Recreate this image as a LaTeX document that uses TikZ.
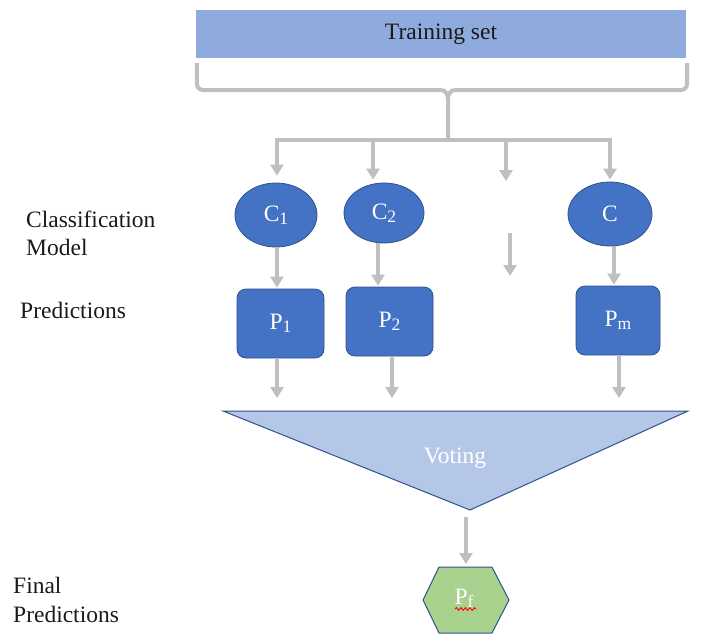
\documentclass[tikz,border=0pt]{standalone}
\usepackage{fontspec}
\setmainfont{Liberation Serif}
\newfontfamily\diagfont{Liberation Serif}
\usetikzlibrary{arrows.meta,shapes.geometric,calc,decorations.pathmorphing}

\definecolor{trainfill}{HTML}{8FAADC}
\definecolor{modelfill}{HTML}{4472C4}
\definecolor{darkedge}{HTML}{2F528F}
\definecolor{votefill}{HTML}{B4C7E7}
\definecolor{finalfill}{HTML}{A9D18E}
\definecolor{linkgrey}{HTML}{BFBFBF}
\definecolor{labeltext}{HTML}{1A1A1A}

% index set slightly below the baseline, at about three quarters size
\newcommand\idx[1]{\raisebox{-0.12em}{\fontsize{17.5}{18}\selectfont #1}}

\tikzset{
  txt/.style={font=\diagfont\fontsize{23.5}{28}\selectfont},
  trainbox/.style={txt, rectangle, fill=trainfill, draw=none, inner sep=0pt,
    minimum width=490pt, minimum height=48pt, text=labeltext},
  model/.style={txt, ellipse, fill=modelfill, draw=darkedge, line width=0.8pt,
    text=white, inner sep=0pt},
  pred/.style={txt, rectangle, rounded corners=9pt, fill=modelfill, draw=darkedge,
    line width=0.8pt, text=white, inner sep=0pt},
  sidelabel/.style={txt, anchor=base west, inner sep=0pt, text=labeltext},
  link/.style={draw=linkgrey, line width=4pt},
  arr/.style={link, -{Triangle[width=13pt,length=11pt]}},
}

\begin{document}
\begin{tikzpicture}[x=1pt,y=-1pt]
\useasboundingbox (0,0) rectangle (705,635);

% training data
\node[trainbox] (train) at (441,34) {Training set};

% brace splitting the training set
\draw[link, rounded corners=6pt] ($(train.south west)+(1,5)$) -- (197,90) -- (441,90);
\draw[link, rounded corners=6pt] ($(train.south east)+(1,5)$) -- (687,90) -- (455,90);
\draw[link] (441,90) to[out=0,in=90] (448,99) -- (448,140);
\draw[link] (455,90) to[out=180,in=90] (448,99);
\coordinate (busL) at (275,140);
\coordinate (busR) at (612,140);
\draw[link] (busL) -- (busR);

% classification models
\node[model, minimum width=82pt, minimum height=64pt] (c1) at (276,215) {C\idx{1}};
\node[model, minimum width=80pt, minimum height=60pt] (c2) at (384,213) {C\idx{2}};
\node[model, minimum width=84pt, minimum height=64pt] (cn) at (610,214) {C};

\draw[arr, shorten >=7pt] (277,140) -- (c1.north -| 277,0);
\draw[arr, shorten >=3pt] (373,140) -- (c2.north -| 373,0);
\coordinate (gapTop) at (506,181);
\draw[arr] (506,140) -- (gapTop);
\draw[arr, shorten >=2pt] (610,140) -- (cn.north);

% predictions
\node[pred, minimum width=87pt, minimum height=69pt] (p1) at (280.5,323.5) {P\idx{1}};
\node[pred, minimum width=87pt, minimum height=69pt] (p2) at (389.5,321.5) {P\idx{2}};
\node[pred, minimum width=84pt, minimum height=69pt] (pm) at (618,320.5) {P\idx{m}};

\draw[arr, shorten >=1pt] (277,247) -- (p1.north -| 277,0);
\draw[arr, shorten >=1pt] (378,243) -- (p2.north -| 378,0);
\coordinate (gapA) at (510,233);
\coordinate (gapB) at (510,276);
\draw[arr] (gapA) -- (gapB);
\draw[arr, shorten >=1pt] (614,246) -- (pm.north -| 614,0);

\coordinate (v1) at (277,398);
\coordinate (v2) at (392,398);
\coordinate (v3) at (619,398);
\draw[arr] (p1.south -| v1) -- (v1);
\draw[arr] (p2.south -| v2) -- (v2);
\draw[arr] (pm.south -| v3) -- (v3);

% voting stage
\draw[fill=votefill, draw=darkedge, line width=1pt] (223,411) -- (688,411) -- (470,510) -- cycle;
\node[txt, text=white] (vote) at (455,458) {Voting};
\coordinate (apex) at (466,510);

% final prediction
\draw[fill=finalfill, draw=darkedge, line width=1pt]
  (423,600) -- (439,567) -- (492,567) -- (509,600) -- (492,633) -- (439,633) -- cycle;
\node[txt, text=white, inner sep=0pt] (pf) at (464,598) {P\idx{f}};
\coordinate (hexTop) at (466,564);
\draw[arr, shorten <=7pt] (apex) -- (hexTop);
\draw[red, line width=0.9pt, decorate,
  decoration={snake, amplitude=1.3pt, segment length=4.5pt}] (455,609) -- (476,609);

% row labels
\node[sidelabel] (lblA) at (26,227) {Classification};
\node[sidelabel] (lblB) at (26,255) {Model};
\node[sidelabel] (lblC) at (20,318) {Predictions};
\node[sidelabel] (lblD) at (13,593) {Final};
\node[sidelabel] (lblE) at (13,622) {Predictions};
\end{tikzpicture}
\end{document}
